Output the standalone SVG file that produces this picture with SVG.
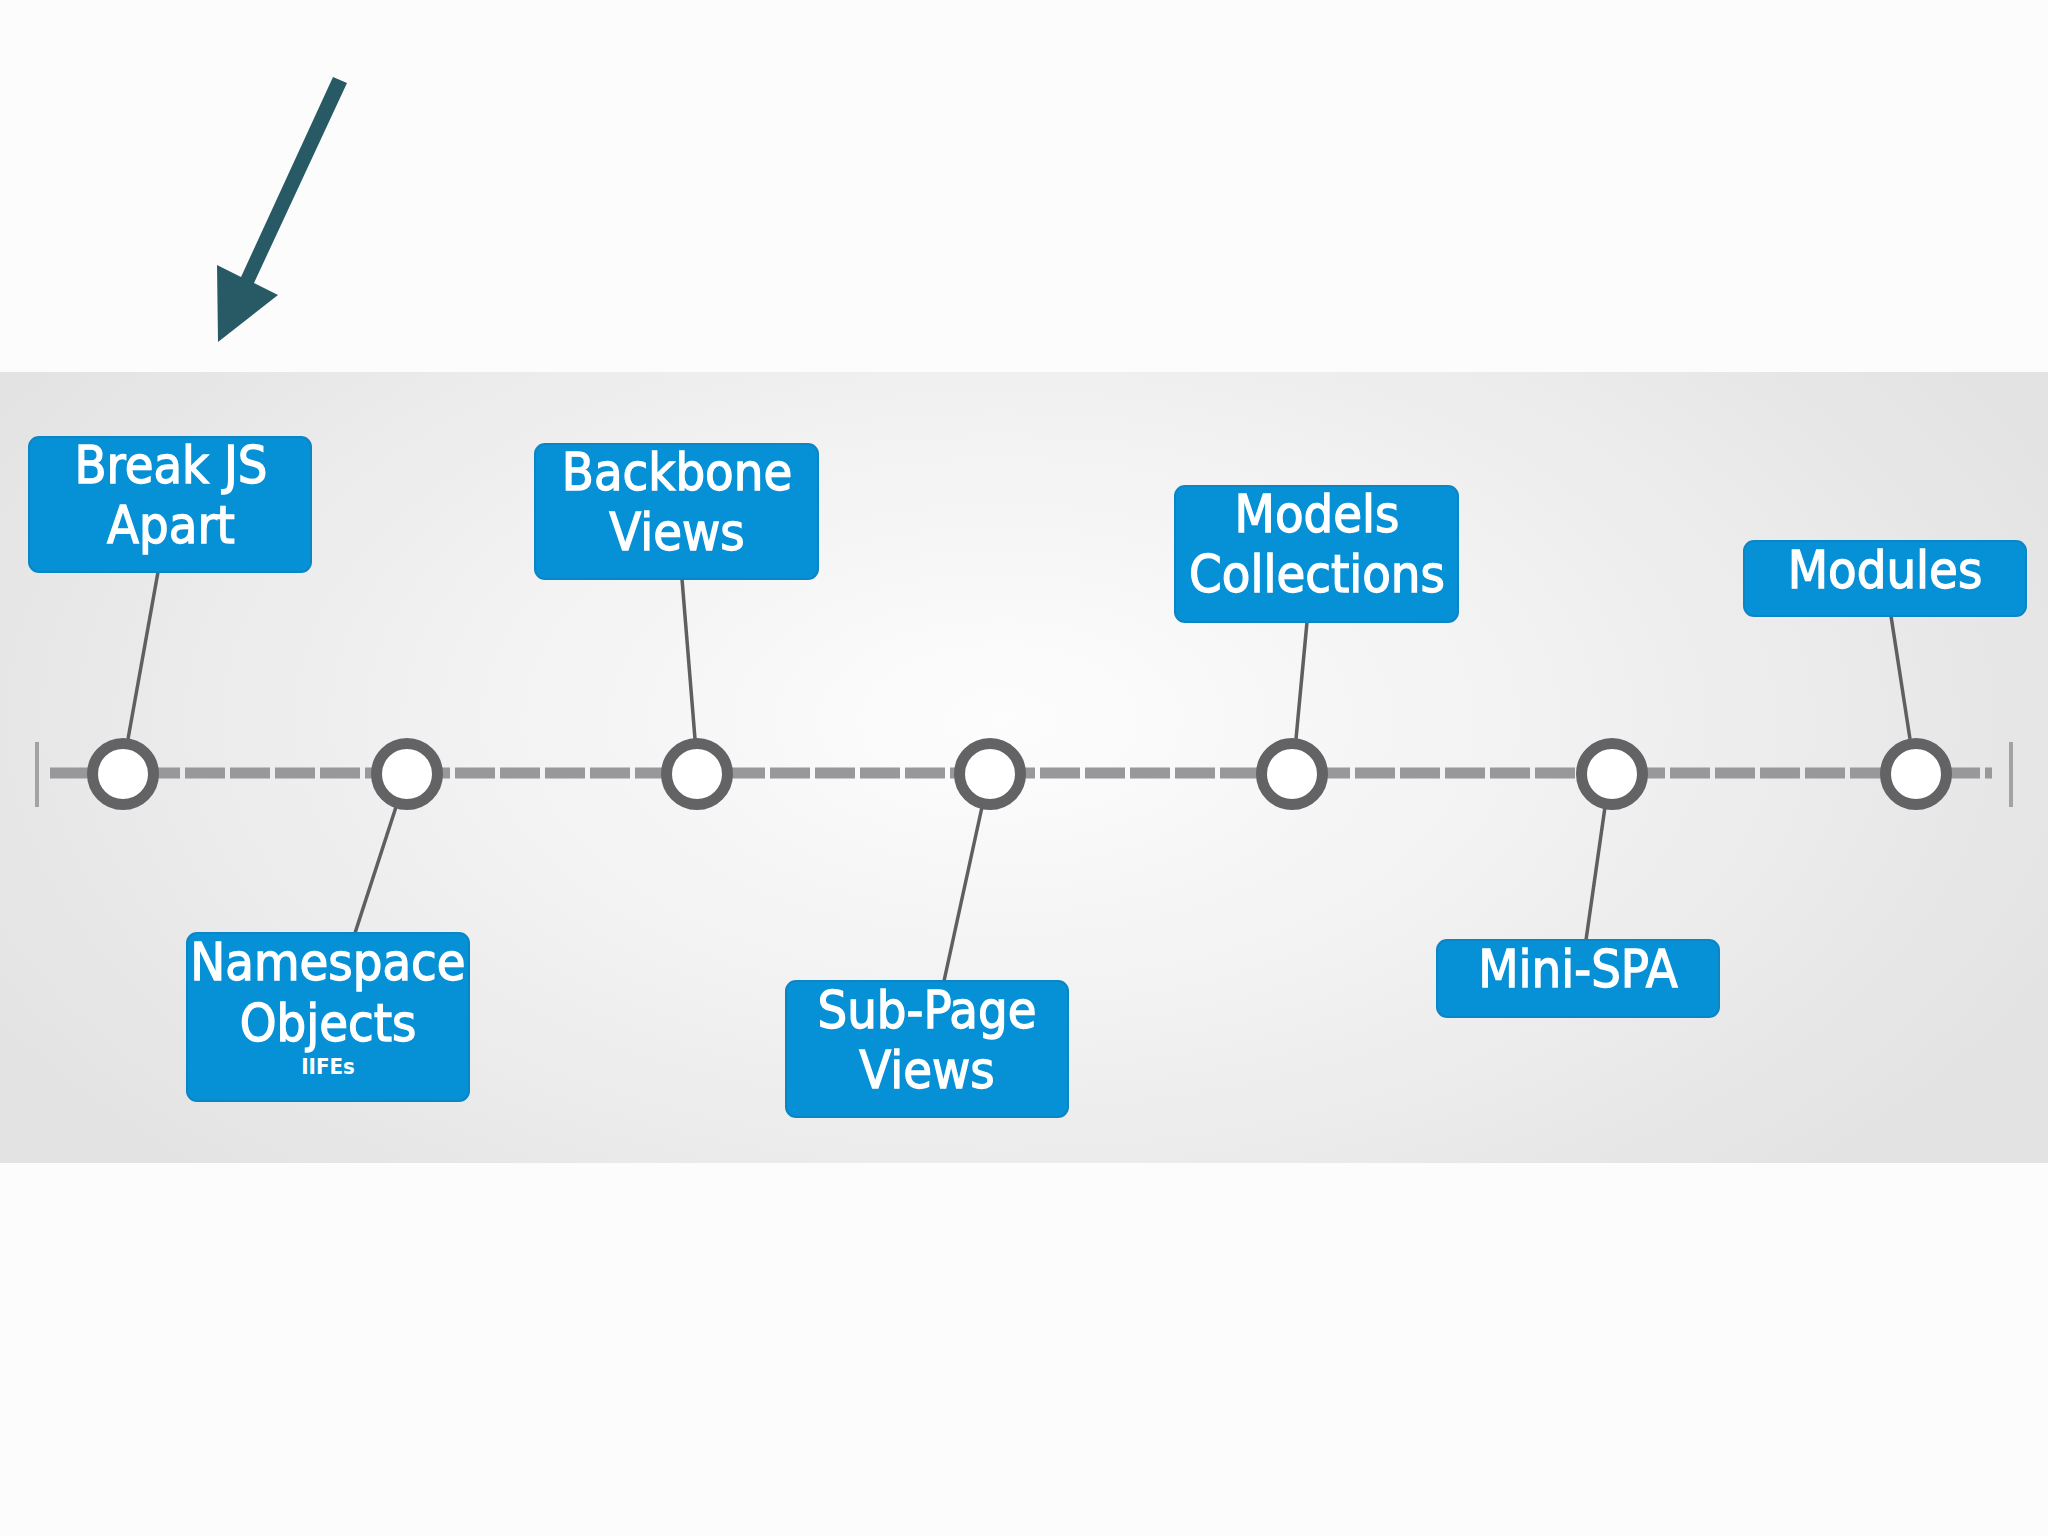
<svg xmlns="http://www.w3.org/2000/svg" width="2048" height="1536" viewBox="0 0 2048 1536">
<defs>
<radialGradient id="bandGrad" cx="1000" cy="720" r="1150" gradientUnits="userSpaceOnUse" gradientTransform="translate(1000 720) scale(1 0.55) translate(-1000 -720)">
<stop offset="0" stop-color="#fdfdfd"/>
<stop offset="0.5" stop-color="#f1f1f2"/>
<stop offset="1" stop-color="#e3e3e4"/>
</radialGradient>
<style>
.box{fill:#0690d6;stroke:#0a86c6;stroke-width:2}
.lbl{font-family:"DejaVu Sans Condensed","DejaVu Sans",sans-serif;font-size:52px;fill:#ffffff;stroke:#ffffff;stroke-width:1.3;text-anchor:middle}
.small{font-family:"DejaVu Sans Condensed","DejaVu Sans",sans-serif;font-size:22px;font-weight:bold;fill:#ffffff;text-anchor:middle}
.lead{stroke:#5f5f62;stroke-width:3.5;fill:none}
.dot{fill:#ffffff;stroke:#636366;stroke-width:11}
.axis{stroke:#98989b;stroke-width:11;fill:none;stroke-dasharray:40 5}
.tick{stroke:#a3a3a6;stroke-width:4}
</style>
</defs>
<rect x="0" y="0" width="2048" height="1536" fill="#fcfcfd"/>
<rect x="0" y="372" width="2048" height="791" fill="url(#bandGrad)"/>
<g id="pointer-arrow">
<polygon points="333,77 347,83 254,283 278,295 218,342 217,265 241,277" fill="#285a66"/>
</g>
<g id="connectors">
<line class="tick" x1="37" y1="742" x2="37" y2="807"/>
<line class="tick" x1="2011" y1="742" x2="2011" y2="807"/>
<line class="axis" x1="50" y1="773" x2="1992" y2="773"/>
<line class="lead" x1="158" y1="572" x2="128" y2="739"/>
<line class="lead" x1="396" y1="807" x2="355" y2="933"/>
<line class="lead" x1="682" y1="579" x2="695" y2="739"/>
<line class="lead" x1="982" y1="807" x2="944" y2="981"/>
<line class="lead" x1="1307" y1="622" x2="1296" y2="739"/>
<line class="lead" x1="1605" y1="807" x2="1586" y2="940"/>
<line class="lead" x1="1891" y1="616" x2="1910" y2="739"/>
</g>
<g id="milestones">
<circle class="dot" cx="123" cy="774" r="30.5"/>
<circle class="dot" cx="407" cy="774" r="30.5"/>
<circle class="dot" cx="697" cy="774" r="30.5"/>
<circle class="dot" cx="990" cy="774" r="30.5"/>
<circle class="dot" cx="1292" cy="774" r="30.5"/>
<circle class="dot" cx="1612" cy="774" r="30.5"/>
<circle class="dot" cx="1916" cy="774" r="30.5"/>
</g>
<g id="node-break-js">
<rect class="box" x="29" y="437" width="282" height="135" rx="10"/>
<text class="lbl" x="171" y="483">Break JS</text>
<text class="lbl" x="171" y="543">Apart</text>
</g>
<g id="node-namespace">
<rect class="box" x="187" y="933" width="282" height="168" rx="10"/>
<text class="lbl" x="328" y="980">Namespace</text>
<text class="lbl" x="328" y="1041">Objects</text>
<text class="small" x="328" y="1074">IIFEs</text>
</g>
<g id="node-backbone">
<rect class="box" x="535" y="444" width="283" height="135" rx="10"/>
<text class="lbl" x="677" y="490">Backbone</text>
<text class="lbl" x="677" y="550">Views</text>
</g>
<g id="node-subpage">
<rect class="box" x="786" y="981" width="282" height="136" rx="10"/>
<text class="lbl" x="927" y="1028">Sub-Page</text>
<text class="lbl" x="927" y="1088">Views</text>
</g>
<g id="node-models">
<rect class="box" x="1175" y="486" width="283" height="136" rx="10"/>
<text class="lbl" x="1317" y="532">Models</text>
<text class="lbl" x="1317" y="592">Collections</text>
</g>
<g id="node-minispa">
<rect class="box" x="1437" y="940" width="282" height="77" rx="10"/>
<text class="lbl" x="1578" y="987">Mini-SPA</text>
</g>
<g id="node-modules">
<rect class="box" x="1744" y="541" width="282" height="75" rx="10"/>
<text class="lbl" x="1885" y="588">Modules</text>
</g>
</svg>
